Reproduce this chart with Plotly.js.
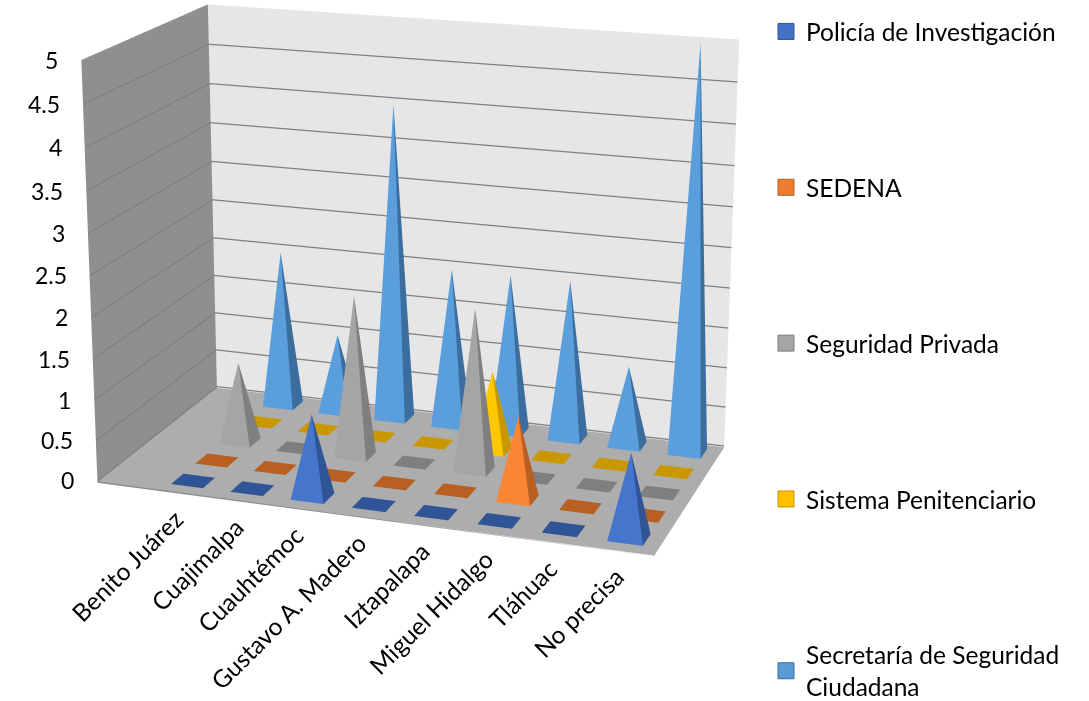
<!DOCTYPE html>
<html><head><meta charset="utf-8">
<script src="https://cdn.plot.ly/plotly-3.0.1.min.js"></script>
<style>html,body{margin:0;padding:0;overflow:hidden;background:#fff;width:1089px;height:701px}
#chart{position:absolute;left:0;top:-788px;width:1089px;height:2100px}</style>
</head><body><div id="chart"></div>
<script>
const categories = ["Benito Juárez","Cuajimalpa","Cuauhtémoc","Gustavo A. Madero","Iztapalapa","Miguel Hidalgo","Tláhuac","No precisa"];
const seriesNames = ["Policía de Investigación","SEDENA","Seguridad Privada","Sistema Penitenciario","Secretaría de Seguridad<br>Ciudadana"];
const policia = [0,0,1,0,0,0,0,1];
const sedena = [0,0,0,0,0,1,0,0];
const privada = [1,0,2,0,2,0,0,0];
const penitenciario = [0,0,0,0,1,0,0,0];
const secretaria = [2,1,4,2,2,2,1,5];
const colors = ["#4472C4","#ED7D31","#A5A5A5","#FFC000","#5B9BD5"];
const coneColors = ["#4676CC","#FA8532","#A5A5A5","#FFC800","#5B9EDC"];
const darks = ["#2F5597","#B85F22","#7F7F7F","#C99700","#3B6E9E"];
const zTicks = [0,0.5,1,1.5,2,2.5,3,3.5,4,4.5,5];
const allSeries = [policia,sedena,privada,penitenciario,secretaria];
const xRange=[-1.42,7.5], yRange=[-0.5,4.5], zRange=[-0.02,5];
const hx=0.27, hy=0.25;
const traces = allSeries.map((vals,s)=>{
  const x=[],y=[],z=[],i=[],j=[],k=[],fc=[];
  vals.forEach((v,c)=>{
    const b=x.length;
    x.push(c-hx,c+hx,c+hx,c-hx,c); y.push(s-hy,s-hy,s+hy,s+hy,s); z.push(0,0,0,0,v);
    i.push(b,b, b,b+1,b+2,b+3); j.push(b+1,b+2, b+1,b+2,b+3,b); k.push(b+2,b+3, b+4,b+4,b+4,b+4);
    const side = v>0 ? coneColors[s] : darks[s];
    fc.push(darks[s],darks[s],side,darks[s],darks[s],side);
  });
  return {type:'mesh3d',x,y,z,i,j,k,facecolor:fc,flatshading:true,showlegend:false,hoverinfo:'skip',
    lighting:{ambient:1,diffuse:0,specular:0,roughness:1,fresnel:0}};
});
// gridlines on the back wall and on the side wall, and the floor edge
const gridTrace=(x,y,z,color,width)=>({type:'scatter3d',mode:'lines',x,y,z,line:{color,width},showlegend:false,hoverinfo:'skip',connectgaps:false});
const backX=[],backY=[],backZ=[],sideX=[],sideY=[],sideZ=[];
zTicks.forEach(t=>{
  backX.push(xRange[0],xRange[1],null); backY.push(yRange[1]-0.01,yRange[1]-0.01,null); backZ.push(t,t,null);
  sideX.push(xRange[0]+0.01,xRange[0]+0.01,null); sideY.push(yRange[0],yRange[1],null); sideZ.push(t,t,null);
});
traces.push(gridTrace(backX,backY,backZ,'#808080',2.5));
traces.push(gridTrace(sideX,sideY,sideZ,'#7D7D7D',2));
traces.push(gridTrace([xRange[0],xRange[1],xRange[1]],[yRange[0],yRange[0],yRange[1]],[zRange[0],zRange[0],zRange[0]],'#8C8C8C',3));
seriesNames.forEach((n,s)=>traces.push({type:'scatter',mode:'markers',x:[null],y:[null],name:n,legendgroup:'g'+s,showlegend:true,hoverinfo:'skip',
  marker:{symbol:'square',size:16,color:colors[s],line:{color:darks[s],width:1}}}));
const H=2100, TOP=788;
const py=p=>1-(p+TOP)/H;
const font={family:'Lato, Carlito, sans-serif',size:23,color:'#000'};
const catFont={family:font.family,size:24.5,color:'#000'};
const sceneAnn=[];
categories.forEach((c,n)=>sceneAnn.push({x:n,y:-0.5,z:0,text:c,textangle:-45,showarrow:false,xanchor:'right',yanchor:'top',xshift:11,yshift:-10,font:catFont}));
zTicks.forEach(t=>sceneAnn.push({x:xRange[0],y:-0.5,z:t,text:String(t),showarrow:false,xanchor:'right',xshift:-21,font}));
const axisBase={showticklabels:false,showgrid:false,zeroline:false,showspikes:false,title:{text:''},showbackground:true,showline:false,ticks:''};
const layout={width:1089,height:H,margin:{l:0,r:0,t:0,b:0},paper_bgcolor:'#fff',plot_bgcolor:'rgba(0,0,0,0)',font,
 showlegend:true,
 xaxis:{visible:false,domain:[0.99,1]},yaxis:{visible:false,domain:[0.99,1]},
 legend:{x:0.7034,y:py(9),xanchor:'left',yanchor:'top',traceorder:'grouped',tracegroupgap:121,font:{family:font.family,size:24.5,color:'#000'},bgcolor:'rgba(0,0,0,0)'},
 scene:{domain:{x:[0,0.765],y:[0,1]},aspectmode:'manual',aspectratio:{x:1.9,y:1,z:1.43},
  camera:{eye:{x:2.62,y:-7.60,z:2.38},center:{x:0,y:0,z:0},up:{x:0,y:0,z:1},projection:{type:'perspective'}},
  xaxis:{...axisBase,range:xRange,backgroundcolor:'#8F8F8F'},
  yaxis:{...axisBase,range:yRange,backgroundcolor:'#E6E6E6'},
  zaxis:{...axisBase,range:zRange,backgroundcolor:'#ADADAD'},
  annotations:sceneAnn}
};
Plotly.newPlot('chart',traces,layout,{displayModeBar:false});
</script></body></html>
